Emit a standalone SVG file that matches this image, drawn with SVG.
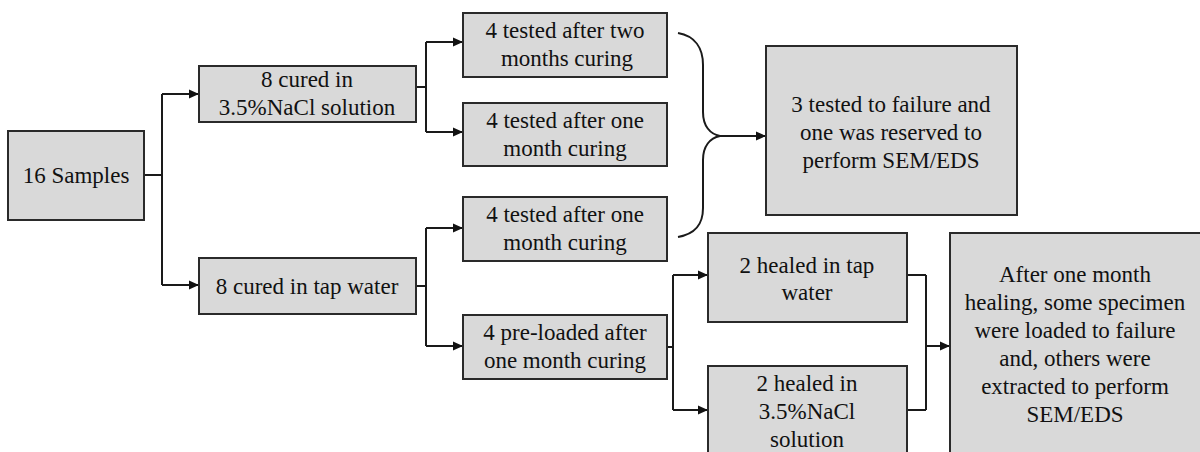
<svg xmlns="http://www.w3.org/2000/svg" width="1200" height="452" viewBox="0 0 1200 452">
<defs>
<marker id="arr" markerUnits="userSpaceOnUse" markerWidth="11" markerHeight="10" refX="10" refY="5" orient="auto">
<path d="M0,0.5 L10,5 L0,9.5 z" fill="#111"/>
</marker>
<style>
.box{fill:#d9d9d9;stroke:#2a2a2a;stroke-width:2}
.t{font-family:'Liberation Serif','Times New Roman',serif;font-size:23px;fill:#111;text-anchor:middle}
.c{fill:none;stroke:#1a1a1a;stroke-width:2}
</style>
</defs>
<rect width="1200" height="452" fill="#fff"/>
<g id="connectors">
<path class="c" d="M144,175 H162 M162,94 V285"/>
<path class="c" d="M162,94 H199" marker-end="url(#arr)"/>
<path class="c" d="M162,285 H199" marker-end="url(#arr)"/>
<path class="c" d="M416,87 H426 M426,42 V132"/>
<path class="c" d="M426,42 H463" marker-end="url(#arr)"/>
<path class="c" d="M426,132 H463" marker-end="url(#arr)"/>
<path class="c" d="M416,286 H426 M426,228 V346"/>
<path class="c" d="M426,228 H463" marker-end="url(#arr)"/>
<path class="c" d="M426,346 H463" marker-end="url(#arr)"/>
<path class="c" d="M678,33 C695,36 703,48 703,65 L703,112 C703,126 710,134 720,136 C710,138 703,146 703,160 L703,208 C703,225 695,234 678,237"/>
<path class="c" d="M720,136 H766" marker-end="url(#arr)"/>
<path class="c" d="M667,347 H673 M673,275 V410"/>
<path class="c" d="M673,275 H708" marker-end="url(#arr)"/>
<path class="c" d="M673,410 H708" marker-end="url(#arr)"/>
<path class="c" d="M907,275 H926 M907,410 H926 M926,275 V410"/>
<path class="c" d="M926,346 H950" marker-end="url(#arr)"/>
</g>
<g id="n-samples">
<rect class="box" x="8" y="131" width="136" height="89"/>
<text class="t" x="76" y="183">16 Samples</text>
</g>
<g id="n-nacl">
<rect class="box" x="199" y="66" width="217" height="56"/>
<text class="t" x="307" y="87">8 cured in</text>
<text class="t" x="307" y="115">3.5%NaCl solution</text>
</g>
<g id="n-tap">
<rect class="box" x="199" y="258" width="217" height="56"/>
<text class="t" x="307" y="294">8 cured in tap water</text>
</g>
<g id="n-two-months">
<rect class="box" x="463" y="13" width="204" height="64"/>
<text class="t" x="565" y="38">4 tested after two</text>
<text class="t" x="567" y="66">months curing</text>
</g>
<g id="n-one-month-a">
<rect class="box" x="463" y="103" width="204" height="63"/>
<text class="t" x="565" y="128">4 tested after one</text>
<text class="t" x="565" y="156">month curing</text>
</g>
<g id="n-one-month-b">
<rect class="box" x="463" y="197" width="204" height="64"/>
<text class="t" x="565" y="222">4 tested after one</text>
<text class="t" x="565" y="250">month curing</text>
</g>
<g id="n-preloaded">
<rect class="box" x="463" y="315" width="204" height="64"/>
<text class="t" x="565" y="340">4 pre-loaded after</text>
<text class="t" x="565" y="368">one month curing</text>
</g>
<g id="n-failure">
<rect class="box" x="766" y="46" width="251" height="169"/>
<text class="t" x="891" y="112">3 tested to failure and</text>
<text class="t" x="891" y="140">one was reserved to</text>
<text class="t" x="891" y="168">perform SEM/EDS</text>
</g>
<g id="n-healed-tap">
<rect class="box" x="708" y="233" width="199" height="89"/>
<text class="t" x="807" y="273">2 healed in tap</text>
<text class="t" x="807" y="300">water</text>
</g>
<g id="n-healed-nacl">
<rect class="box" x="708" y="366" width="199" height="100"/>
<text class="t" x="807" y="391">2 healed in</text>
<text class="t" x="807" y="419">3.5%NaCl</text>
<text class="t" x="807" y="447">solution</text>
</g>
<g id="n-after">
<rect class="box" x="950" y="233" width="252" height="230"/>
<text class="t" x="1075" y="282">After one month</text>
<text class="t" x="1075" y="310">healing, some specimen</text>
<text class="t" x="1075" y="338">were loaded to failure</text>
<text class="t" x="1075" y="366">and, others were</text>
<text class="t" x="1075" y="394">extracted to perform</text>
<text class="t" x="1075" y="422">SEM/EDS</text>
</g>
</svg>
